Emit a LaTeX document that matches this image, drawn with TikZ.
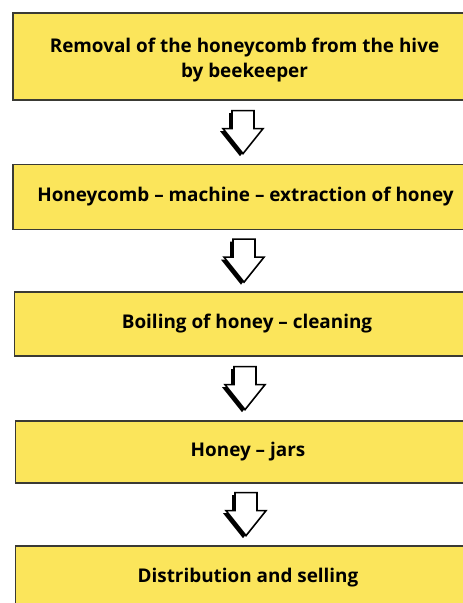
\documentclass[tikz,border=0pt]{standalone}
\usepackage{fontspec}
\setmainfont{Open Sans}
\usetikzlibrary{calc}
\definecolor{honey}{HTML}{FBE55B}
\definecolor{edge}{HTML}{3A3A34}
\tikzset{
  stepbox/.style={draw=edge, line width=1.3pt, fill=honey, rectangle,
    minimum width=465pt, align=center, inner sep=0pt,
    font=\fontsize{18.9}{25}\selectfont\bfseries},
  steptext/.style={align=center, inner sep=0pt,
    font=\fontsize{18.9}{25}\selectfont\bfseries},
}
\newcommand{\blockarrow}[1]{%
  \begin{scope}[shift={(#1)}]
    \fill[black] (-14,2.5) -- (8,2.5) -- (8,20.5) -- (17,20.5) -- (-3,45.5) -- (-23,20.5) -- (-14,20.5) -- cycle;
    \draw[black, line width=1.6pt, fill=white, line join=miter]
      (-11,0) -- (11,0) -- (11,18) -- (20,18) -- (0,43) -- (-20,18) -- (-11,18) -- cycle;
  \end{scope}}
\begin{document}
\begin{tikzpicture}[x=1pt,y=-1pt]
  \useasboundingbox (0,0) rectangle (463,603);
  \fill[white] (0,0) rectangle (463,603);
  \clip (0,0) rectangle (463,603);
  \node[stepbox, minimum height=87pt] (b1) at (245.5,56.5) {};
  \node[steptext] (t1) at ($(b1.center)+(-1,4)$)
    {Removal of the honeycomb from the hive\\by beekeeper};
  \node[stepbox, minimum height=65pt] (b2) at (245.5,197)
    {Honeycomb -- machine -- extraction of honey};
  \node[stepbox, minimum height=64pt] (b3) at (247,324)
    {Boiling of honey -- cleaning};
  \node[stepbox, minimum height=62pt] (b4) at (248,452)
    {Honey -- jars};
  \node[stepbox, minimum height=64pt] (b5) at (248,578)
    {Distribution and selling};
  \path ($(b1.south)+(-2.5,10)$) coordinate (a1);
  \path ($(b2.south)+(-1.5,9)$) coordinate (a2);
  \path ($(b3.south)+(-2,10)$) coordinate (a3);
  \path ($(b4.south)+(-2,9)$) coordinate (a4);
  \blockarrow{a1}
  \blockarrow{a2}
  \blockarrow{a3}
  \blockarrow{a4}
\end{tikzpicture}
\end{document}
